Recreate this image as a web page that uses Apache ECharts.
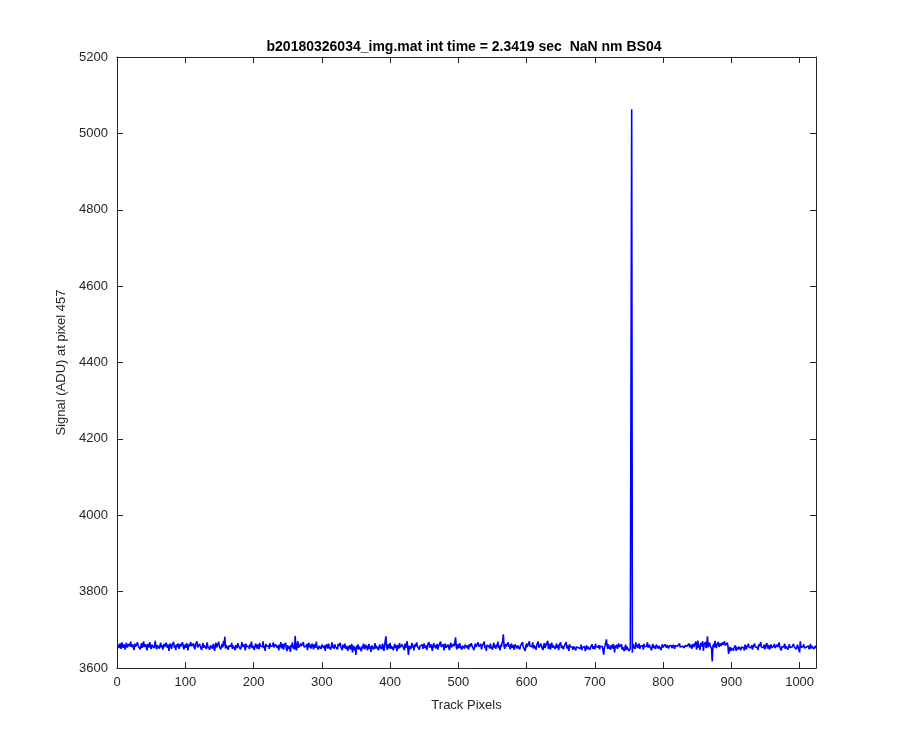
<!DOCTYPE html>
<html>
<head>
<meta charset="utf-8">
<script src="https://cdn.jsdelivr.net/npm/echarts@6/dist/echarts.min.js"></script>
<style>html,body{margin:0;padding:0;background:#fff}#c{width:900px;height:750px}</style>
</head>
<body>
<div id="c"></div>
<script>
const titleText = 'b20180326034_img.mat int time = 2.3419 sec  NaN nm BS04';
const xLabel = 'Track Pixels';
const yLabel = 'Signal (ADU) at pixel 457';
const xTicks = [0, 100, 200, 300, 400, 500, 600, 700, 800, 900, 1000];
const yTicks = [3600, 3800, 4000, 4200, 4400, 4600, 4800, 5000, 5200];

// Signal value for track pixels 1..1024 (read/estimated from the picture)
const signal = [
3655,3661,3652,3664,3658,3650,3667,3659,3653,3662,3656,3648,3660,3666,3654,3659,3651,3663,3657,3669,3655,3650,3661,3658,3647,3664,3656,3660,3652,3667,3658,3654,
3661,3649,3657,3665,3653,3659,3670,3655,3651,3662,3657,3646,3663,3659,3654,3668,3656,3650,3661,3657,3664,3652,3658,3671,3655,3649,3660,3656,3663,3651,3659,3666,
3654,3660,3648,3657,3663,3655,3651,3666,3659,3653,3661,3645,3658,3664,3656,3650,3662,3657,3668,3653,3659,3647,3661,3655,3664,3658,3650,3663,3656,3652,3660,3667,
3655,3649,3661,3657,3653,3665,3659,3646,3662,3656,3651,3668,3657,3660,3652,3664,3655,3649,3661,3658,3670,3654,3659,3650,3663,3656,3661,3647,3658,3665,3653,3659,
3662,3655,3650,3667,3657,3653,3661,3648,3659,3664,3656,3651,3663,3658,3645,3660,3666,3654,3658,3652,3669,3656,3661,3649,3657,3663,3654,3671,3659,3682,3651,3660,
3655,3664,3648,3658,3662,3653,3657,3666,3650,3659,3655,3663,3647,3660,3656,3652,3665,3658,3654,3661,3649,3657,3668,3655,3651,3662,3659,3646,3664,3656,3653,3660,
3657,3650,3663,3655,3669,3652,3658,3661,3647,3656,3664,3659,3651,3662,3655,3649,3666,3657,3653,3660,3656,3670,3652,3658,3645,3663,3657,3661,3654,3659,3650,3665,
3656,3661,3652,3658,3667,3654,3649,3662,3657,3664,3653,3659,3646,3661,3655,3668,3651,3657,3663,3648,3660,3656,3666,3652,3644,3659,3663,3650,3657,3642,3661,3655,
3667,3651,3659,3648,3684,3656,3646,3662,3670,3653,3658,3649,3664,3657,3661,3652,3668,3655,3650,3660,3657,3663,3647,3659,3666,3654,3661,3651,3658,3664,3656,3649,
3662,3657,3653,3669,3655,3660,3648,3658,3663,3654,3650,3661,3657,3666,3652,3659,3645,3656,3662,3658,3651,3664,3655,3660,3648,3657,3667,3653,3659,3650,3662,3656,
3660,3654,3649,3663,3657,3652,3666,3655,3659,3647,3661,3656,3653,3664,3650,3658,3662,3645,3657,3651,3660,3648,3655,3663,3641,3652,3658,3646,3654,3634,3659,3650,
3662,3648,3656,3653,3660,3644,3657,3651,3664,3655,3649,3661,3652,3658,3646,3656,3663,3650,3657,3642,3659,3654,3661,3648,3656,3665,3651,3658,3653,3660,3647,3655,
3662,3651,3657,3649,3664,3656,3645,3659,3671,3683,3654,3648,3662,3657,3652,3666,3650,3658,3655,3661,3647,3657,3663,3653,3659,3644,3660,3656,3651,3665,3654,3658,
3650,3662,3655,3659,3647,3664,3653,3657,3670,3652,3634,3658,3661,3649,3656,3666,3653,3659,3646,3662,3655,3651,3667,3657,3653,3660,3648,3658,3663,3654,3661,3650,
3657,3664,3652,3659,3655,3647,3661,3656,3668,3653,3650,3662,3657,3645,3659,3665,3654,3660,3651,3657,3663,3648,3656,3661,3653,3669,3655,3650,3659,3662,3646,3657,
3664,3653,3658,3650,3661,3656,3647,3660,3666,3654,3659,3651,3663,3657,3668,3680,3655,3649,3662,3657,3652,3665,3656,3660,3648,3658,3663,3654,3651,3661,3657,3666,
3653,3659,3648,3662,3656,3651,3665,3658,3654,3661,3647,3657,3664,3655,3660,3650,3667,3656,3652,3659,3663,3649,3657,3661,3654,3669,3652,3658,3645,3660,3656,3663,
3657,3651,3664,3655,3660,3648,3658,3666,3653,3659,3650,3662,3656,3669,3652,3658,3646,3661,3655,3664,3671,3688,3657,3650,3663,3656,3659,3652,3667,3655,3661,3649,
3658,3664,3653,3660,3656,3648,3662,3657,3666,3651,3659,3655,3663,3649,3658,3661,3654,3668,3656,3652,3660,3645,3658,3664,3655,3659,3651,3670,3657,3653,3662,3656,
3667,3651,3659,3663,3655,3648,3661,3658,3669,3653,3657,3650,3664,3656,3661,3647,3659,3665,3652,3658,3662,3654,3671,3650,3657,3663,3648,3660,3666,3653,3659,3655,
3662,3650,3657,3664,3653,3659,3647,3661,3656,3667,3652,3658,3663,3649,3657,3661,3654,3668,3651,3659,3655,3645,3662,3656,3651,3660,3654,3648,3657,3652,3661,3646,
3655,3650,3659,3653,3648,3657,3651,3661,3647,3654,3658,3650,3656,3644,3653,3659,3649,3655,3652,3660,3648,3656,3653,3662,3650,3657,3654,3649,3663,3656,3651,3658,
3654,3660,3649,3657,3652,3662,3656,3647,3635,3653,3659,3664,3675,3658,3650,3662,3654,3657,3648,3660,3655,3651,3663,3656,3641,3659,3653,3661,3650,3657,3664,3655,
3650,3657,3662,3648,3655,3659,3644,3652,3661,3647,3656,3653,3660,3645,3642,3651,3654,5063,3640,3663,3656,3659,3650,3667,3655,3661,3652,3658,3664,3650,3657,3662,
3654,3659,3648,3663,3656,3651,3660,3657,3667,3653,3649,3661,3655,3659,3646,3657,3663,3652,3658,3655,3650,3661,3656,3664,3651,3658,3653,3660,3647,3656,3662,3654,
3659,3655,3662,3657,3653,3660,3656,3651,3658,3663,3655,3659,3652,3657,3661,3656,3650,3659,3654,3662,3657,3653,3658,3664,3655,3660,3651,3657,3662,3656,3653,3659,
3655,3661,3657,3652,3659,3664,3654,3658,3661,3650,3657,3663,3655,3651,3660,3669,3648,3657,3672,3653,3660,3647,3666,3656,3651,3670,3645,3661,3657,3668,3652,3659,
3683,3654,3649,3666,3658,3660,3651,3617,3656,3663,3654,3671,3659,3652,3662,3657,3668,3655,3660,3664,3658,3653,3667,3661,3656,3670,3659,3663,3654,3666,3658,3637,
3648,3655,3644,3652,3649,3657,3646,3653,3650,3659,3645,3654,3651,3648,3656,3652,3660,3647,3655,3650,3658,3653,3646,3661,3655,3649,3657,3652,3663,3654,3650,3658,
3653,3660,3648,3656,3651,3664,3655,3650,3659,3654,3647,3662,3656,3652,3668,3655,3650,3658,3653,3661,3649,3657,3654,3665,3651,3656,3660,3648,3655,3662,3653,3658,
3650,3657,3663,3652,3656,3649,3661,3655,3651,3667,3654,3658,3646,3656,3660,3652,3655,3664,3650,3657,3653,3661,3648,3656,3662,3654,3651,3659,3655,3650,3663,3656,
3652,3658,3649,3655,3661,3653,3657,3641,3670,3654,3659,3650,3656,3662,3652,3657,3648,3655,3660,3653,3658,3649,3656,3663,3651,3657,3654,3660,3650,3655,3658,3652
];

const xMin = 0, xMax = 1024;
const yMin = yTicks[0], yMax = yTicks[yTicks.length - 1];

const seriesData = signal.map((v, i) => [i + 1, v]);

const axisColor = '#262626';
const fontFamily = '"Liberation Sans", Arial, Helvetica, sans-serif';

const chart = echarts.init(document.getElementById('c'), null, {renderer: 'canvas'});

function xAx(pos, showLabel) {
  return {
    type: 'value', position: pos, min: xMin, max: xMax, interval: 100,
    name: showLabel ? xLabel : '', nameLocation: 'middle', nameGap: 31,
    nameTextStyle: {color: axisColor, fontSize: 13, fontFamily: fontFamily},
    axisLine: {show: true, onZero: false, lineStyle: {color: axisColor, width: 1}},
    axisTick: {show: true, inside: true, length: 6, lineStyle: {color: axisColor}},
    axisLabel: {show: showLabel, color: axisColor, fontSize: 13, fontFamily: fontFamily, margin: 8, showMaxLabel: false,
      formatter: v => (xTicks.indexOf(v) >= 0 ? String(v) : '')},
    splitLine: {show: false}
  };
}
function yAx(pos, showLabel) {
  return {
    type: 'value', position: pos, min: yMin, max: yMax, interval: 200,
    name: showLabel ? yLabel : '', nameLocation: 'middle', nameGap: 44,
    nameTextStyle: {color: axisColor, fontSize: 13, fontFamily: fontFamily},
    axisLine: {show: true, onZero: false, lineStyle: {color: axisColor, width: 1}},
    axisTick: {show: true, inside: true, length: 6, lineStyle: {color: axisColor}},
    axisLabel: {show: showLabel, color: axisColor, fontSize: 13, fontFamily: fontFamily, margin: 9,
      formatter: v => (yTicks.indexOf(v) >= 0 ? String(v) : '')},
    splitLine: {show: false}
  };
}

chart.setOption({
  animation: false,
  backgroundColor: '#ffffff',
  title: {
    text: titleText, left: 459, top: 35, textAlign: 'center',
    textStyle: {color: '#000', fontSize: 14, fontWeight: 'bold', fontFamily: fontFamily}
  },
  grid: {left: 117, right: 84, top: 57, bottom: 82, containLabel: false},
  xAxis: [xAx('bottom', true), xAx('top', false)],
  yAxis: [yAx('left', true), yAx('right', false)],
  series: [{
    type: 'line', data: seriesData, xAxisIndex: 0, yAxisIndex: 0,
    showSymbol: false, symbol: 'none', sampling: null,
    lineStyle: {color: '#0000ff', width: 1.6},
    clip: true
  }]
});
</script>
</body>
</html>
